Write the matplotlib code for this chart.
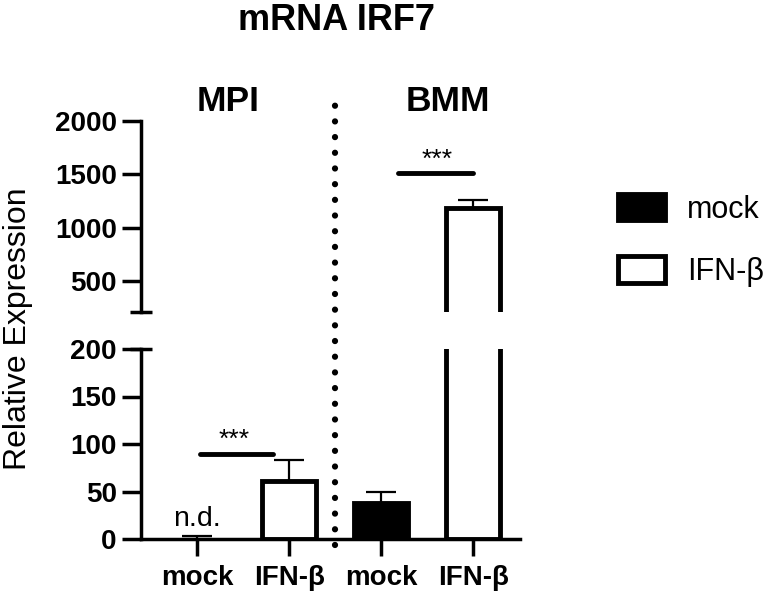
import numpy as np
import matplotlib
matplotlib.use('Agg')
import matplotlib.pyplot as plt
from matplotlib.patches import Patch
from matplotlib.lines import Line2D
from matplotlib.transforms import blended_transform_factory

plt.rcParams['font.family'] = ['Liberation Sans', 'DejaVu Sans']

# data
cells = ['MPI', 'BMM']
labels = ['mock', 'IFN-β', 'mock', 'IFN-β']
means = [0, 61, 38, 1180]
errs = [3, 22, 12, 80]
is_mock = [True, False, True, False]
# significance brackets: (x0, x1, y, star_y)
sig_mpi = (0.03, 0.83, 90, 104)
sig_bmm = (2.18, 3.0, 1514, 1636)

W, H = 765, 595
fig = plt.figure(figsize=(W / 100, H / 100), dpi=100)


def fx(px):
    return px / W


def fy(py):
    return 1 - py / H


ax_hi = fig.add_axes([fx(141), fy(312), fx(520) - fx(141), fy(121) - fy(312)])
ax_lo = fig.add_axes([fx(141), fy(539), fx(520) - fx(141), fy(349) - fy(539)])

x = np.arange(len(labels))
lw = 3.5
for ax in (ax_hi, ax_lo):
    for i in range(len(x)):
        if means[i] == 0:
            continue  # n.d.
        ax.bar(x[i], means[i], width=0.58,
               color='black' if is_mock[i] else 'white',
               edgecolor='black', linewidth=lw, zorder=2)
    ax.errorbar(x, means, yerr=[np.zeros(len(errs)), errs], fmt='none',
                ecolor='black', elinewidth=1.6, capsize=11, capthick=1.6,
                zorder=1)
    ax.set_xlim(-0.61, 3.51)
    for s in ['top', 'right']:
        ax.spines[s].set_visible(False)
    ax.spines['left'].set_linewidth(2.5)
    ax.spines['bottom'].set_linewidth(2.5)
    ax.tick_params(axis='y', length=14, width=2.5, pad=3.5, labelsize=20)

ax_hi.set_ylim(210, 2000)
ax_hi.set_yticks([500, 1000, 1500, 2000])
ax_hi.spines['bottom'].set_visible(False)
ax_hi.set_xticks([])
for t in ax_hi.get_yticklabels():
    t.set_fontweight('bold')

ax_lo.set_ylim(0, 200)
ax_lo.set_yticks([0, 50, 100, 150, 200])
ax_lo.set_xticks(x)
ax_lo.set_xticklabels(labels, fontsize=20, fontweight='bold')
ax_lo.tick_params(axis='x', length=12, width=2.5, pad=7)
for t in ax_lo.get_yticklabels():
    t.set_fontweight('bold')

# axis break caps
ax_hi.plot([0], [0], marker='_', markersize=16, mew=2.5, color='black',
           transform=ax_hi.transAxes, clip_on=False)
ax_lo.plot([0], [1], marker='_', markersize=16, mew=2.5, color='black',
           transform=ax_lo.transAxes, clip_on=False)

# significance
ax_lo.plot(sig_mpi[:2], [sig_mpi[2]] * 2, color='black', lw=3.5,
           solid_capstyle='round', clip_on=False)
ax_lo.text(np.mean(sig_mpi[:2]) - 0.03, sig_mpi[3], '***', ha='center',
           va='center', fontsize=19)
ax_hi.plot(sig_bmm[:2], [sig_bmm[2]] * 2, color='black', lw=3.5,
           solid_capstyle='round', clip_on=False)
ax_hi.text(np.mean(sig_bmm[:2]) + 0.02, sig_bmm[3], '***', ha='center',
           va='center', fontsize=19)
ax_lo.text(0, 21, 'n.d.', ha='center', va='center', fontsize=20.5)

# dotted divider between cell types
tr = blended_transform_factory(ax_lo.transData, fig.transFigure)
fig.add_artist(Line2D([1.5, 1.5], [fy(545), fy(105)], transform=tr,
                      color='black', lw=4.5, linestyle=(0, (0.01, 2.5)),
                      dash_capstyle='round'))

# texts
fig.text(fx(336), fy(20), 'mRNA IRF7', fontsize=26, fontweight='bold',
         ha='center', va='center')
fig.text(fx(228.5), fy(101), cells[0], fontsize=25.5, fontweight='bold',
         ha='center', va='center')
fig.text(fx(447.5), fy(101), cells[1], fontsize=25.5, fontweight='bold',
         ha='center', va='center')
fig.text(fx(18), fy(329), 'Relative Expression', fontsize=23,
         rotation=90, ha='center', va='center')

handles = [Patch(facecolor='black', edgecolor='black', linewidth=lw),
           Patch(facecolor='white', edgecolor='black', linewidth=lw)]
fig.legend(handles, ['mock', 'IFN-β'], loc='upper left',
           bbox_to_anchor=(fx(618), fy(194)), frameon=False, fontsize=22,
           handlelength=1.54, handleheight=0.95, handletextpad=0.72,
           labelspacing=1.03, borderpad=0, borderaxespad=0)

fig.savefig('out.png', dpi=100)
